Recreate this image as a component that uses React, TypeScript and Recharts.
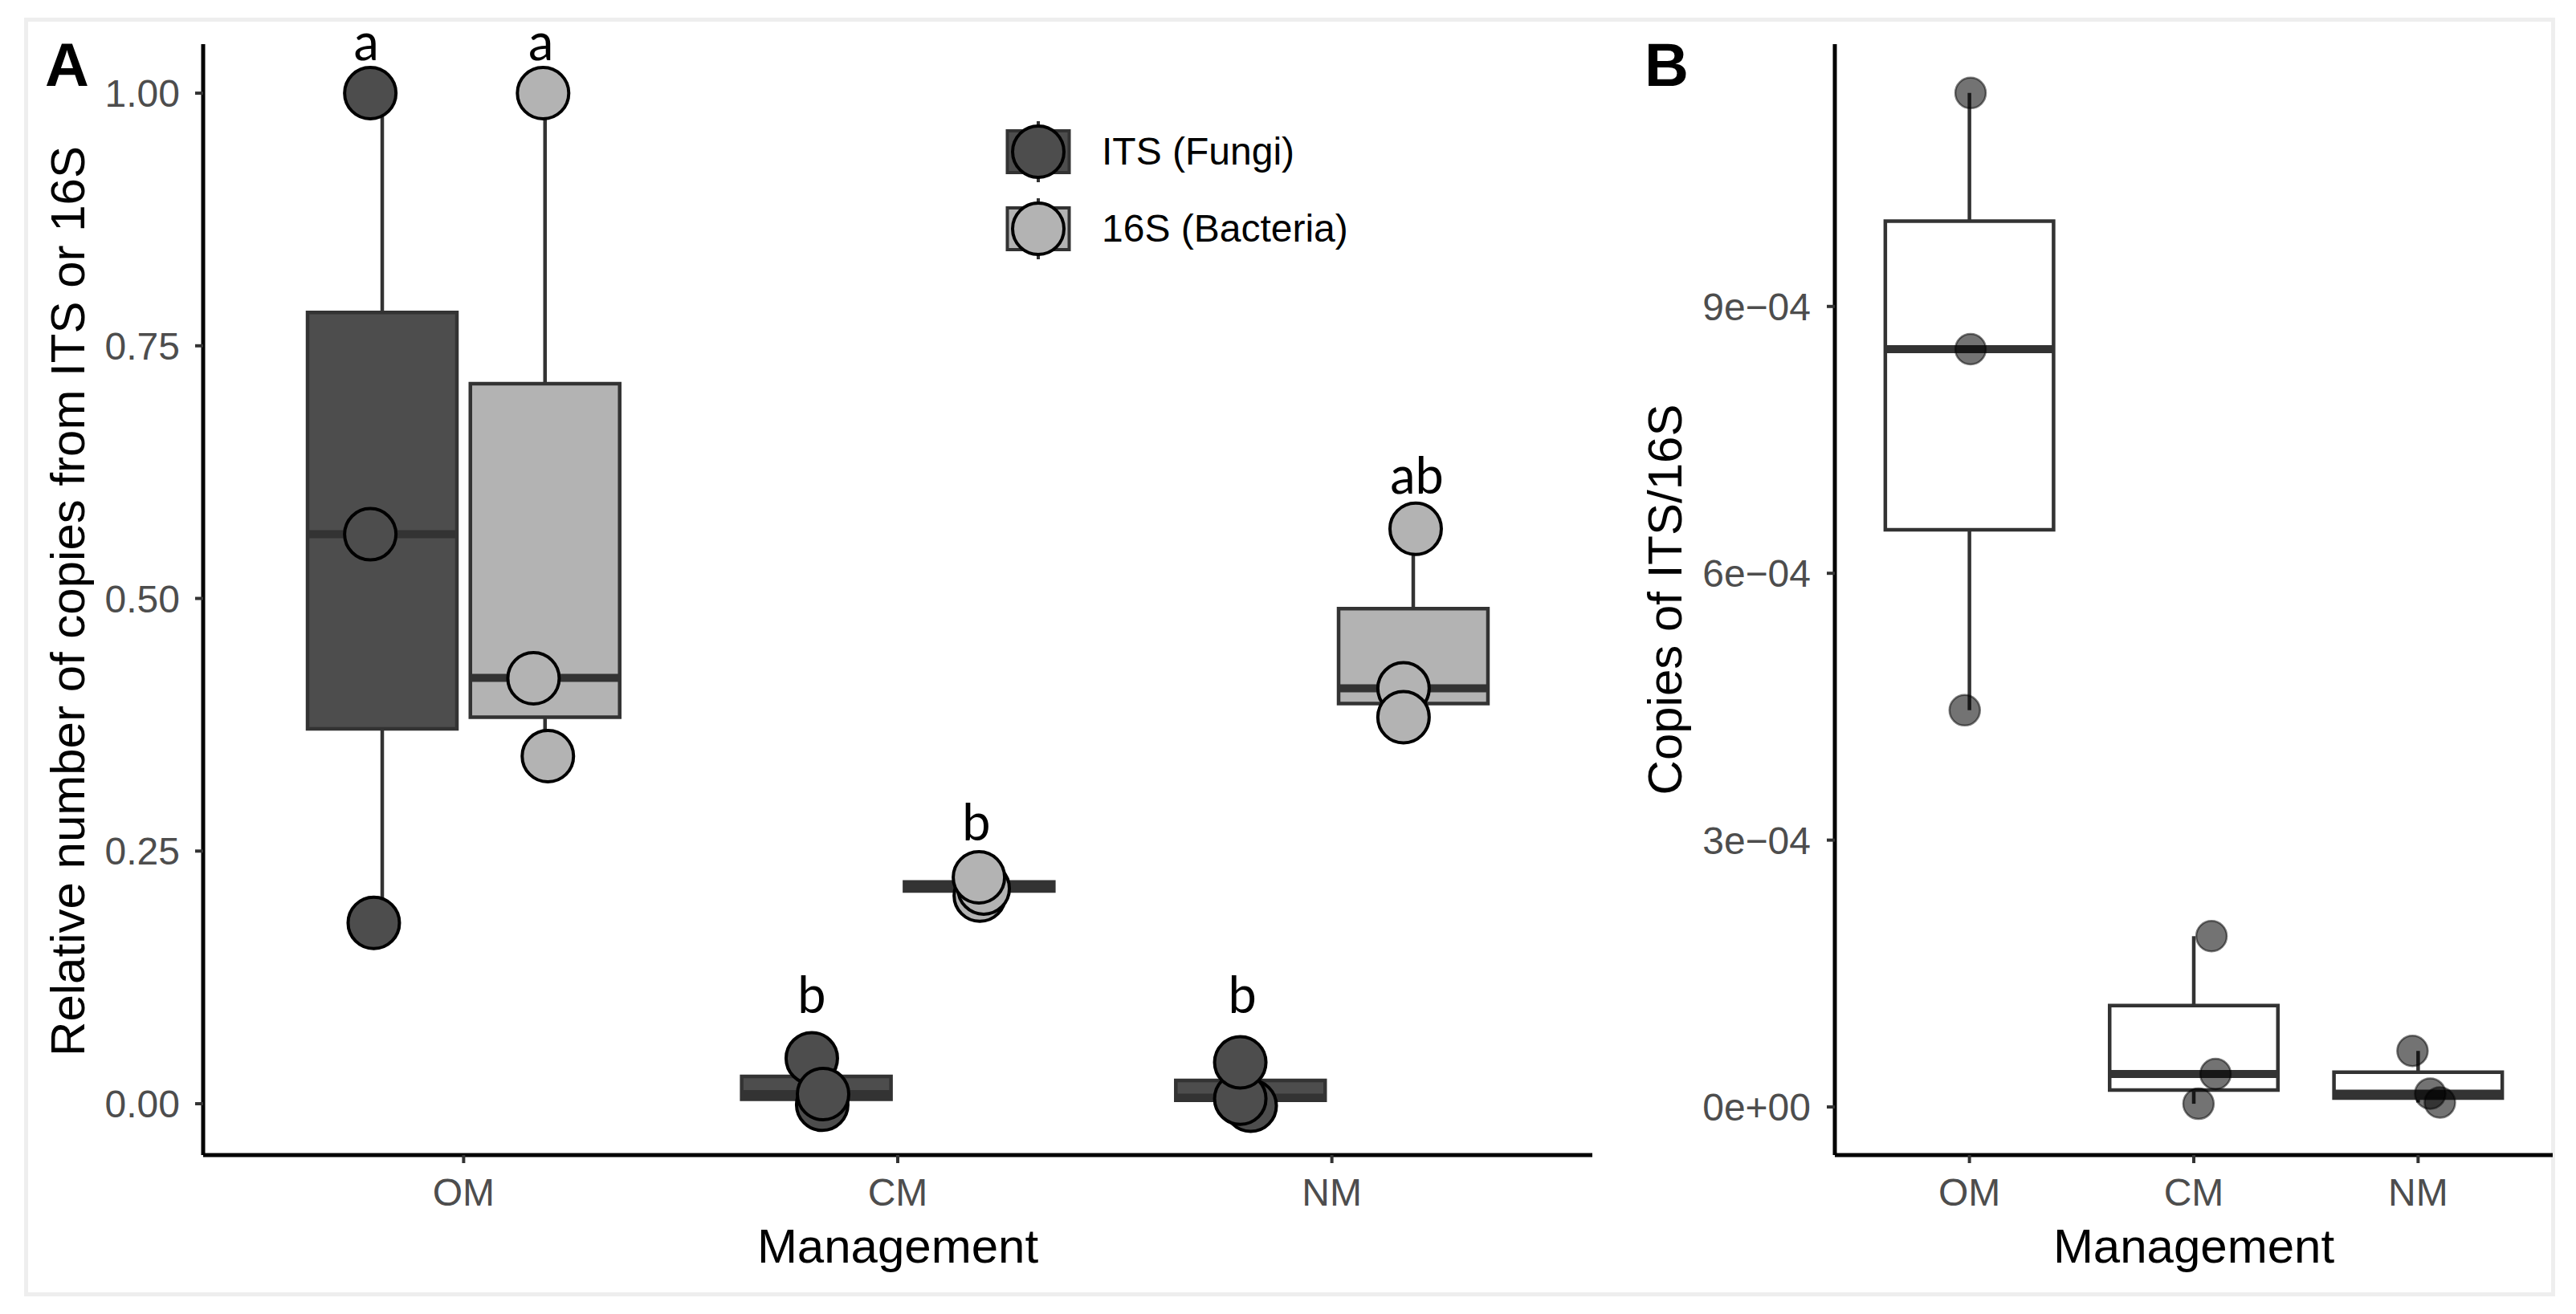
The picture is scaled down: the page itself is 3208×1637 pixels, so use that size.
import React from 'react';
import {
  ComposedChart,
  Scatter,
  XAxis,
  YAxis,
  ReferenceArea,
  ReferenceLine,
  Legend,
} from 'recharts';

// ---------- shared ----------
const categories = ['OM', 'CM', 'NM'];
const categoryPositions = [1, 2, 3];

// ---------- Panel A : relative number of copies ----------
const seriesNames = ['ITS (Fungi)', '16S (Bacteria)'];
const seriesFills = ['#4d4d4d', '#b3b3b3'];

// box statistics, ITS (Fungi)
const itsLowerWhisker = [0.179, -0.001, -0.002];
const itsQ1 = [0.371, 0.0045, 0.0035];
const itsMedian = [0.5635, 0.0095, 0.006];
const itsQ3 = [0.783, 0.027, 0.023];
const itsUpperWhisker = [1.0, 0.045, 0.041];

// box statistics, 16S (Bacteria)
const bacLowerWhisker = [0.344, 0.206, 0.3825];
const bacQ1 = [0.3825, 0.2105, 0.396];
const bacMedian = [0.4214, 0.215, 0.411];
const bacQ3 = [0.7125, 0.2195, 0.49];
const bacUpperWhisker = [1.0, 0.224, 0.569];

// individual samples (x = category position with jitter)
const itsPointX = [0.785, 0.785, 0.793, 1.802, 1.826, 1.828, 2.813, 2.789, 2.789];
const itsPointY = [1.0, 0.5635, 0.179, 0.045, -0.001, 0.0095, -0.002, 0.005, 0.041];
const bacPointX = [1.183, 1.161, 1.194, 2.189, 2.198, 2.187, 3.193, 3.165, 3.165];
const bacPointY = [1.0, 0.421, 0.344, 0.206, 0.213, 0.224, 0.569, 0.411, 0.3825];

// significance letters
const letterText = ['a', 'a', 'b', 'b', 'b', 'ab'];
const letterX = [0.776, 1.178, 1.802, 2.181, 2.794, 3.196];
const letterY = [1.0326, 1.0326, 0.0898, 0.2605, 0.0898, 0.6036];

const yTicksA = [0, 0.25, 0.5, 0.75, 1];
const yTickLabelsA = ['0.00', '0.25', '0.50', '0.75', '1.00'];

// ---------- Panel B : copies of ITS/16S ----------
const ratioLowerWhisker = [4.46e-4, 0.036e-4, 0.05e-4];
const ratioQ1 = [6.49e-4, 0.19e-4, 0.1e-4];
const ratioMedian = [8.52e-4, 0.37e-4, 0.15e-4];
const ratioQ3 = [9.96e-4, 1.14e-4, 0.39e-4];
const ratioUpperWhisker = [11.4e-4, 1.92e-4, 0.63e-4];

const ratioPointX = [1.005, 1.005, 0.979, 2.079, 2.097, 2.021, 2.975, 3.054, 3.097];
const ratioPointY = [11.4e-4, 8.52e-4, 4.46e-4, 1.92e-4, 0.37e-4, 0.036e-4, 0.63e-4, 0.15e-4, 0.05e-4];

const yTicksB = [0, 3e-4, 6e-4, 9e-4];
const yTickLabelsB = ['0e+00', '3e\u221204', '6e\u221204', '9e\u221204'];

// ---------- styling constants ----------
const FONT = "'Liberation Sans', Arial, Helvetica, sans-serif";
const LETTER_FONT = "Lato, 'Open Sans', sans-serif";
const DODGE = 0.1875;
const BOX_HALF_A = 0.172;
const BOX_HALF_B = 0.375;
const LINE = '#333333';

const zip = (xs: number[], ys: number[]) => xs.map((x, i) => ({ x, y: ys[i] }));
const itsPoints = zip(itsPointX, itsPointY);
const bacPoints = zip(bacPointX, bacPointY);
const ratioPoints = zip(ratioPointX, ratioPointY);
const letters = letterText.map((t, i) => ({ x: letterX[i], y: letterY[i], label: t }));

const catLabel = (v: number) => categories[categoryPositions.indexOf(v)] ?? '';

function boxElements(
  key: string,
  pos: number,
  hw: number,
  lo: number,
  q1: number,
  med: number,
  q3: number,
  hi: number,
  fill: string,
) {
  return [
    <ReferenceLine
      key={key + '-wl'}
      segment={[{ x: pos, y: lo }, { x: pos, y: q1 }]}
      stroke={LINE}
      strokeWidth={4.5}
      ifOverflow="visible"
    />,
    <ReferenceLine
      key={key + '-wu'}
      segment={[{ x: pos, y: q3 }, { x: pos, y: hi }]}
      stroke={LINE}
      strokeWidth={4.5}
      ifOverflow="visible"
    />,
    <ReferenceArea
      key={key + '-box'}
      x1={pos - hw}
      x2={pos + hw}
      y1={q1}
      y2={q3}
      fill={fill}
      fillOpacity={1}
      stroke={LINE}
      strokeWidth={4.5}
      ifOverflow="visible"
    />,
    <ReferenceLine
      key={key + '-med'}
      segment={[{ x: pos - hw, y: med }, { x: pos + hw, y: med }]}
      stroke={LINE}
      strokeWidth={10}
      ifOverflow="visible"
    />,
  ];
}

const renderLegend = () => (
  <div style={{ display: 'flex', flexDirection: 'column' }}>
    {seriesNames.map((name, i) => (
      <div key={name} style={{ display: 'flex', alignItems: 'center', height: 96 }}>
        <svg width={82} height={96} style={{ display: 'block' }}>
          <line x1={41} x2={41} y1={10} y2={86} stroke={LINE} strokeWidth={4} />
          <rect x={2.5} y={22} width={77} height={52} fill={seriesFills[i]} stroke={LINE} strokeWidth={4} />
          <circle cx={41} cy={48} r={32} fill={seriesFills[i]} stroke="#000" strokeWidth={4} />
        </svg>
        <span
          style={{
            marginLeft: 38,
            fontSize: 48,
            lineHeight: '48px',
            fontFamily: FONT,
            color: '#000',
            whiteSpace: 'nowrap',
          }}
        >
          {name}
        </span>
      </div>
    ))}
  </div>
);

const tickStyle = { fontSize: 48, fill: '#4d4d4d', fontFamily: FONT };
const axisLineStyle = { stroke: '#000', strokeWidth: 5 };
const tickLineStyle = { stroke: LINE, strokeWidth: 4 };

function PanelA() {
  const boxes: React.ReactNode[] = [];
  categoryPositions.forEach((p, i) => {
    boxes.push(
      ...boxElements('its' + i, p - DODGE, BOX_HALF_A, itsLowerWhisker[i], itsQ1[i], itsMedian[i], itsQ3[i], itsUpperWhisker[i], seriesFills[0]),
    );
    boxes.push(
      ...boxElements('bac' + i, p + DODGE, BOX_HALF_A, bacLowerWhisker[i], bacQ1[i], bacMedian[i], bacQ3[i], bacUpperWhisker[i], seriesFills[1]),
    );
  });
  return (
    <ComposedChart
      width={2010}
      height={1637}
      margin={{ top: 55, right: 27, bottom: 48, left: 53 }}
      style={{ position: 'absolute', left: 0, top: 0 }}
    >
      <XAxis
        type="number"
        dataKey="x"
        domain={[0.4, 3.6]}
        ticks={categoryPositions}
        tickFormatter={catLabel}
        height={150}
        tick={tickStyle}
        axisLine={axisLineStyle}
        tickLine={tickLineStyle}
        tickSize={10}
        tickMargin={19}
        interval={0}
      />
      <YAxis
        type="number"
        dataKey="y"
        domain={[-0.0508, 1.0485]}
        ticks={yTicksA}
        tickFormatter={(v: number) => yTickLabelsA[yTicksA.indexOf(v)] ?? ''}
        width={200}
        tick={tickStyle}
        axisLine={axisLineStyle}
        tickLine={tickLineStyle}
        tickSize={10}
        tickMargin={19}
        interval={0}
      />
      {boxes}
      <Scatter
        name={seriesNames[0]}
        data={itsPoints}
        dataKey="y"
        fill={seriesFills[0]}
        isAnimationActive={false}
        shape={(p: any) => <circle cx={p.cx} cy={p.cy} r={32} fill={seriesFills[0]} stroke="#000" strokeWidth={4} />}
      />
      <Scatter
        name={seriesNames[1]}
        data={bacPoints}
        dataKey="y"
        fill={seriesFills[1]}
        isAnimationActive={false}
        shape={(p: any) => <circle cx={p.cx} cy={p.cy} r={32} fill={seriesFills[1]} stroke="#000" strokeWidth={4} />}
      />
      <Scatter
        name="letters"
        data={letters}
        dataKey="y"
        legendType="none"
        isAnimationActive={false}
        shape={(p: any) => (
          <text x={p.cx} y={p.cy} textAnchor="middle" fontSize={63} fontFamily={LETTER_FONT} fill="#000">
            {p.payload.label}
          </text>
        )}
      />
      <Legend
        layout="vertical"
        align="center"
        verticalAlign="middle"
        content={renderLegend}
        wrapperStyle={{ left: 1252, top: 141, width: 'auto', height: 'auto', margin: 0 }}
      />
      <text x={56} y={107} fontSize={76} fontWeight="bold" fontFamily={FONT} fill="#000">
        A
      </text>
      <text transform="translate(105,749) rotate(-90)" textAnchor="middle" fontSize={60} fontFamily={FONT} fill="#000">
        Relative number of copies from ITS or 16S
      </text>
      <text x={1118} y={1573} textAnchor="middle" fontSize={60} fontFamily={FONT} fill="#000">
        Management
      </text>
    </ComposedChart>
  );
}

function PanelB() {
  const boxes: React.ReactNode[] = [];
  categoryPositions.forEach((p, i) => {
    boxes.push(
      ...boxElements('r' + i, p, BOX_HALF_B, ratioLowerWhisker[i], ratioQ1[i], ratioMedian[i], ratioQ3[i], ratioUpperWhisker[i], '#ffffff'),
    );
  });
  return (
    <ComposedChart
      width={1218}
      height={1637}
      margin={{ top: 55, right: 29, bottom: 48, left: 95 }}
      style={{ position: 'absolute', left: 1990, top: 0 }}
    >
      <XAxis
        type="number"
        dataKey="x"
        domain={[0.4, 3.6]}
        ticks={categoryPositions}
        tickFormatter={catLabel}
        height={150}
        tick={tickStyle}
        axisLine={axisLineStyle}
        tickLine={tickLineStyle}
        tickSize={10}
        tickMargin={19}
        interval={0}
      />
      <YAxis
        type="number"
        dataKey="y"
        domain={[-0.0000541, 0.0011949]}
        ticks={yTicksB}
        tickFormatter={(v: number) => yTickLabelsB[yTicksB.indexOf(v)] ?? ''}
        width={200}
        tick={tickStyle}
        axisLine={axisLineStyle}
        tickLine={tickLineStyle}
        tickSize={10}
        tickMargin={20}
        interval={0}
      />
      {boxes}
      <Scatter
        name="ITS/16S"
        data={ratioPoints}
        dataKey="y"
        fill="#000"
        legendType="none"
        isAnimationActive={false}
        shape={(p: any) => (
          <circle
            cx={p.cx}
            cy={p.cy}
            r={19}
            fill="#000"
            fillOpacity={0.55}
            stroke="#000"
            strokeOpacity={0.5}
            strokeWidth={2.5}
          />
        )}
      />
      <text x={58} y={107} fontSize={76} fontWeight="bold" fontFamily={FONT} fill="#000">
        B
      </text>
      <text transform="translate(104,747) rotate(-90)" textAnchor="middle" fontSize={60} fontFamily={FONT} fill="#000">
        Copies of ITS/16S
      </text>
      <text x={742} y={1573} textAnchor="middle" fontSize={60} fontFamily={FONT} fill="#000">
        Management
      </text>
    </ComposedChart>
  );
}

export default function App() {
  return (
    <div
      style={{
        position: 'absolute',
        left: 0,
        top: 0,
        width: 3208,
        height: 1637,
        background: '#ffffff',
        overflow: 'hidden',
      }}
    >
      <div
        style={{
          position: 'absolute',
          left: 30,
          top: 22,
          width: 3152,
          height: 1593,
          border: '5px solid #eeeeee',
          boxSizing: 'border-box',
        }}
      />
      <PanelA />
      <PanelB />
    </div>
  );
}
